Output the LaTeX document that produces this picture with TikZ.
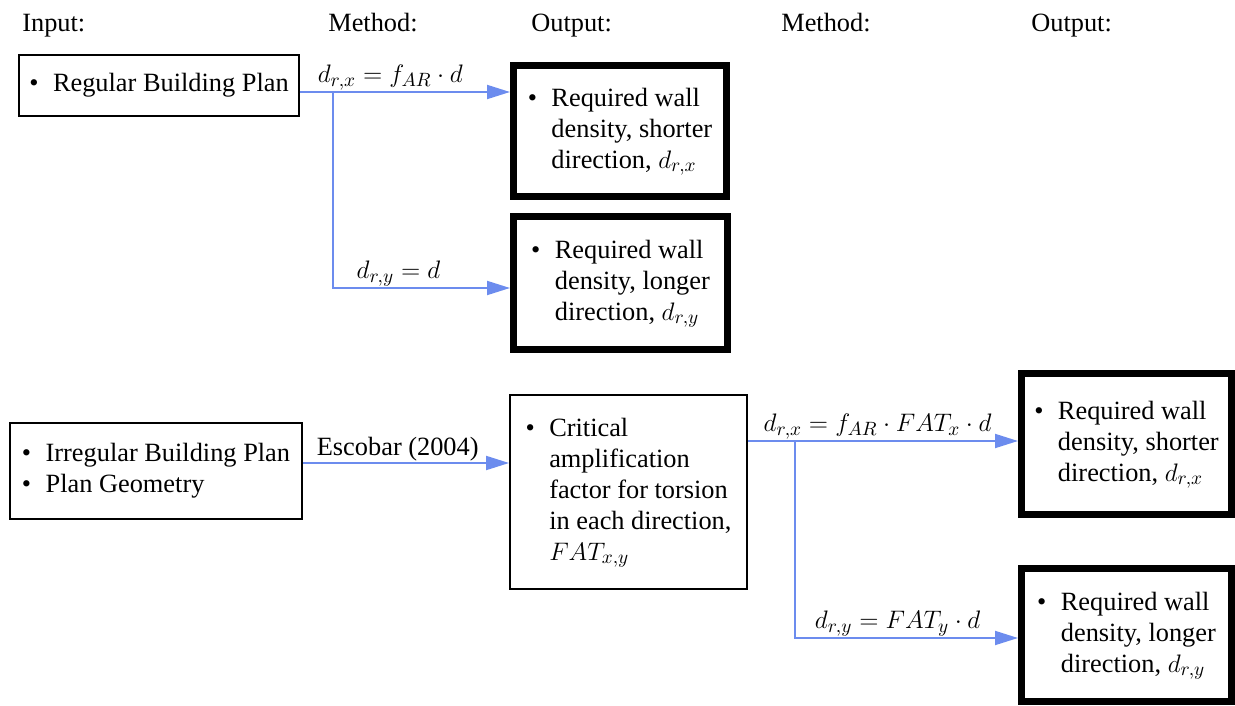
\documentclass[tikz,border=0pt]{standalone}
\usepackage{amssymb,amsfonts,amsmath}
\usepackage{fontspec}
\newfontfamily\timesfam{Liberation Serif}
\usepackage{tikz}
\usetikzlibrary{shapes,arrows,positioning}
\usetikzlibrary{arrows.meta}
\definecolor{flowblue}{RGB}{108,140,238}
\newcommand{\bitem}[1]{\textbullet\hspace{0.55em}\begin{tabular}[t]{@{}l@{}}#1\end{tabular}}
\tikzset{
	thinbox/.style={draw, line width=1.1pt, inner sep=2pt, align=left},
	thickbox/.style={draw, line width=4pt, inner sep=2pt, align=left},
	flow/.style={draw=flowblue, line width=1.1pt, -{Triangle[length=0.46cm,width=0.28cm]}},
	lbl/.style={above, inner sep=0.6pt},
	head/.style={anchor=base west, inner sep=0pt}
}

\begin{document}
\begin{tikzpicture}[x=0.02cm, y=-0.02cm, font=\timesfam\fontsize{15}{17.6}\selectfont]
				\useasboundingbox (0,0) rectangle (1235,706);
				\node[head] (hin) at (22,32) {Input:};
				\node[head] (hm1) at (328,32) {Method:};
				\node[head] (ho1) at (531,32) {Output:};
				\node[head] (hm2) at (781,32) {Method:};
				\node[head] (ho2) at (1031,32) {Output:};
				\node[thinbox, minimum width=5.6cm, minimum height=1.22cm] (reg) at (159,85.5) {\bitem{Regular Building Plan}};
				\node[thickbox, minimum width=4.26cm, minimum height=2.62cm] (out1) at (620,131) {\bitem{Required wall\\density, shorter\\direction, $d_{r,x}$}};
				\node[thickbox, minimum width=4.28cm, minimum height=2.66cm] (out2) at (620.5,283) {\bitem{Required wall\\density, longer\\direction, $d_{r,y}$}};
				\node[thinbox, minimum width=5.84cm, minimum height=1.92cm] (irr) at (156,471) {\bitem{Irregular Building Plan}\\\bitem{Plan Geometry}};
				\node[thinbox, minimum width=4.74cm, minimum height=3.88cm] (crit) at (628.5,492) {\bitem{Critical\\amplification\\factor for torsion\\in each direction,\\$FAT_{x,y}$}};
				\node[thickbox, minimum width=4.2cm, minimum height=2.82cm] (out3) at (1126.5,444) {\bitem{Required wall\\density, shorter\\direction, $d_{r,x}$}};
				\node[thickbox, minimum width=4.2cm, minimum height=2.66cm] (out4) at (1126.5,635) {\bitem{Required wall\\density, longer\\direction, $d_{r,y}$}};
				\coordinate (b1) at (333,92);
				\coordinate (b2) at (333,288);
				\coordinate (e1) at (303,463);
				\coordinate (b3) at (795,441);
				\coordinate (b4) at (795,638);
				\draw [flow] (reg.east |- b1) -- node[lbl, pos=0.43] (lrx) {$d_{r,x} = f_{AR}\cdot d$} (out1.west |- b1);
				\draw [flow] (b1) -- (b2) -- node[lbl, pos=0.37] (lry) {$d_{r,y} = d$} (out2.west |- b2);
				\draw [flow] (irr.east |- e1) -- node[lbl, pos=0.46] (lesc) {Escobar (2004)} (crit.west |- e1);
				\draw [flow] (crit.east |- b3) -- node[lbl, pos=0.48] (lfx) {$d_{r,x} = f_{AR}\cdot FAT_x\cdot d$} (out3.west |- b3);
				\draw [flow] (b3) -- (b4) -- node[lbl, pos=0.46] (lfy) {$d_{r,y} = FAT_y\cdot d$} (out4.west |- b4);
\end{tikzpicture}
\end{document}
